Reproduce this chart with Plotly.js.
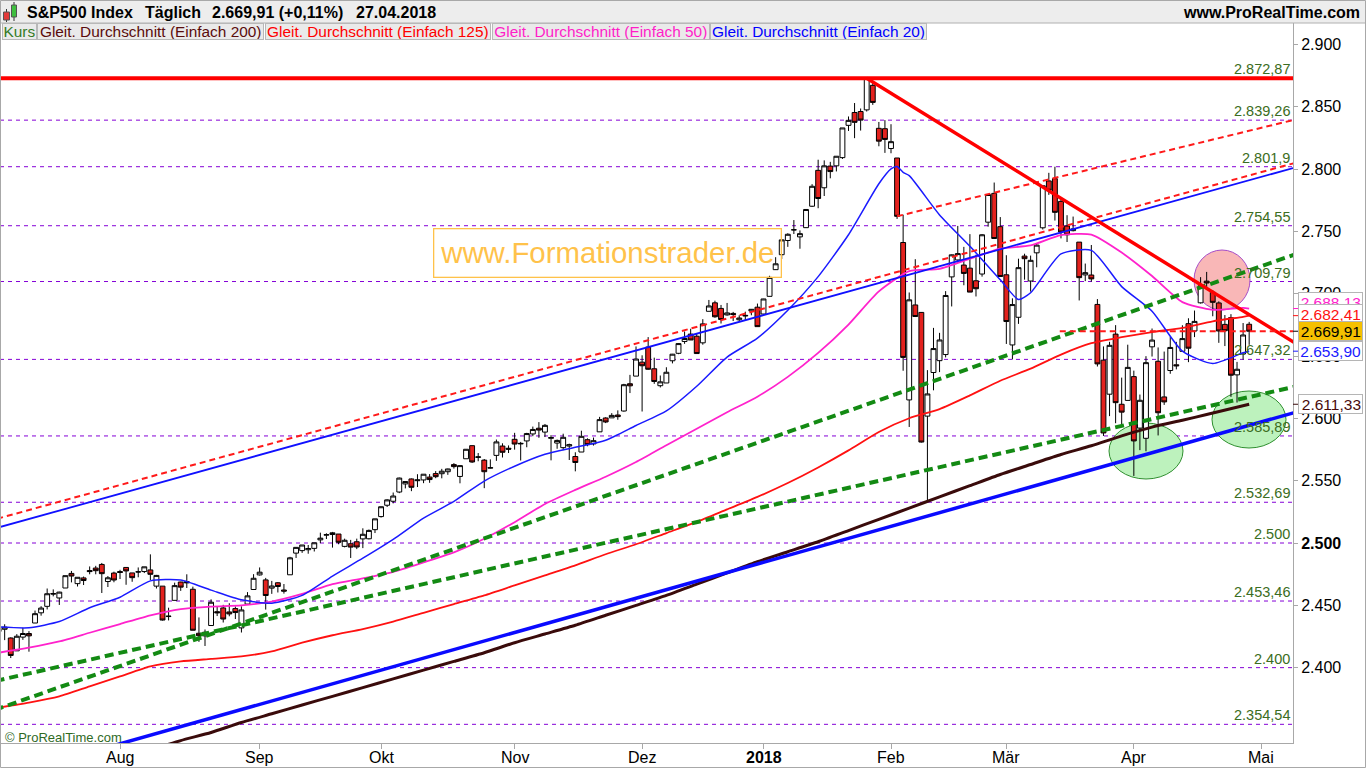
<!DOCTYPE html>
<html><head><meta charset="utf-8">
<script src="https://cdn.plot.ly/plotly-3.0.1.min.js"></script>
<style>html,body{margin:0;padding:0;background:#fff;overflow:hidden}#chart{width:1366px;height:768px}</style>
</head><body><div id="chart"></div>
<script>
// ---------------- DATA ----------------
const tradingDays = {
  '2017-07':[3,5,6,7,10,11,12,13,14,17,18,19,20,21,24,25,26,27,28,31],
  '2017-08':[1,2,3,4,7,8,9,10,11,14,15,16,17,18,21,22,23,24,25,28,29,30,31],
  '2017-09':[1,5,6,7,8,11,12,13,14,15,18,19,20,21,22,25,26,27,28,29],
  '2017-10':[2,3,4,5,6,9,10,11,12,13,16,17,18,19,20,23,24,25,26,27,30,31],
  '2017-11':[1,2,3,6,7,8,9,10,13,14,15,16,17,20,21,22,24,27,28,29,30],
  '2017-12':[1,4,5,6,7,8,11,12,13,14,15,18,19,20,21,22,26,27,28,29],
  '2018-01':[2,3,4,5,8,9,10,11,12,16,17,18,19,22,23,24,25,26,29,30,31],
  '2018-02':[1,2,5,6,7,8,9,12,13,14,15,16,20,21,22,23,26,27,28],
  '2018-03':[1,2,5,6,7,8,9,12,13,14,15,16,19,20,21,22,23,26,27,28,29],
  '2018-04':[2,3,4,5,6,9,10,11,12,13,16,17,18,19,20,23,24,25,26,27]
};
// empty axis slots after the last candle (right margin of the chart)
const axisExtraDays = {'2018-04':[30],'2018-05':[1,2,3,4,7,8,9]};

const open = [2431.4,2430.8,2423.8,2413.5,2424.5,2427.4,2435.8,2444.0,2449.2,2459.5,2455.9,2463.9,2475.6,2467.4,2472.0,2477.9,2479.9,2482.8,2469.1,2475.9,
2477.1,2480.4,2476.0,2476.9,2477.1,2478.4,2465.4,2465.4,2441.0,2454.0,2468.7,2469.0,2462.9,2427.6,2425.5,2433.8,2444.9,2447.9,2444.7,2447.4,2431.9,2451.0,2462.7,
2474.4,2470.4,2463.8,2468.1,2462.3,2474.5,2491.9,2493.9,2494.6,2495.7,2502.5,2506.3,2506.8,2507.2,2497.3,2499.4,2501.0,2503.3,2503.4,2510.7,
2521.2,2530.3,2533.5,2540.9,2547.4,2551.4,2550.0,2550.6,2552.9,2555.7,2555.6,2557.2,2562.9,2553.4,2567.6,2578.1,2568.7,2566.5,2560.1,2570.3,2577.8,2576.0,
2583.2,2579.5,2581.9,2587.5,2592.1,2589.0,2584.0,2580.2,2576.5,2577.8,2569.4,2573.0,2582.9,2579.5,2589.2,2600.3,2600.4,2602.7,2605.9,2627.8,2633.9,
2645.1,2657.2,2639.8,2626.2,2628.4,2646.2,2652.2,2661.7,2667.6,2665.9,2660.6,2685.9,2692.7,2688.2,2683.0,2684.2,2679.1,2682.1,2686.1,2689.2,
2683.7,2697.9,2719.3,2731.3,2742.7,2751.2,2745.6,2753.0,2770.2,2799.0,2785.0,2802.4,2802.6,2809.2,2835.1,2845.4,2846.2,2847.5,2867.2,2832.7,2832.4,
2816.5,2808.9,2741.1,2614.8,2691.0,2685.0,2601.8,2636.8,2646.3,2651.2,2713.5,2727.1,2723.0,2720.5,2710.4,2715.8,2757.4,2780.5,2753.8,
2715.2,2658.9,2681.1,2730.2,2710.2,2732.8,2752.9,2790.5,2792.3,2774.1,2754.3,2750.6,2741.4,2715.1,2715.0,2691.4,2646.7,2619.4,2667.6,2611.3,2614.4,
2633.5,2592.2,2584.0,2657.4,2645.8,2617.2,2638.4,2643.0,2653.8,2676.0,2670.1,2692.7,2710.1,2701.2,2692.6,2675.4,2680.8,2634.9,2651.7,2675.5];

const high = [2439.2,2434.8,2424.3,2426.9,2432.0,2429.3,2445.8,2449.3,2463.5,2462.8,2460.9,2473.8,2477.6,2472.5,2473.1,2481.2,2481.7,2484.0,2473.5,2477.0,
2478.5,2480.4,2476.0,2480.4,2480.9,2490.9,2474.4,2465.4,2448.1,2468.2,2468.9,2474.9,2465.0,2440.3,2430.6,2454.8,2448.9,2450.4,2451.7,2449.1,2449.2,2460.6,2475.0,
2480.4,2472.0,2469.6,2468.6,2467.1,2488.9,2496.8,2498.4,2498.4,2500.2,2508.3,2507.8,2508.9,2507.2,2503.5,2502.5,2503.5,2511.8,2510.8,2519.4,
2529.2,2535.1,2540.5,2552.5,2549.4,2551.8,2555.2,2555.2,2555.3,2557.7,2559.5,2559.7,2564.1,2562.4,2575.4,2578.3,2572.2,2567.4,2567.1,2583.0,2580.0,2578.3,
2588.4,2581.1,2588.4,2593.4,2597.0,2595.5,2586.5,2583.0,2587.7,2579.7,2572.8,2590.1,2584.0,2584.6,2601.2,2600.9,2604.2,2606.4,2627.7,2634.9,2657.7,
2650.6,2665.2,2648.7,2634.4,2641.0,2651.7,2660.3,2669.7,2671.9,2668.1,2679.6,2695.0,2694.4,2691.0,2692.6,2685.4,2682.7,2685.6,2687.7,2692.1,
2695.9,2714.4,2729.3,2743.5,2748.5,2759.1,2750.8,2767.6,2787.9,2807.5,2807.0,2805.8,2810.3,2833.0,2842.2,2853.0,2848.6,2872.9,2870.6,2837.8,2839.3,
2836.0,2808.9,2763.4,2701.0,2727.7,2685.3,2638.7,2672.6,2668.6,2702.1,2731.5,2754.4,2737.6,2747.8,2731.3,2747.8,2780.0,2789.2,2761.5,
2730.9,2696.3,2728.1,2732.1,2730.6,2740.5,2786.6,2797.0,2801.9,2777.1,2763.0,2761.9,2741.4,2724.2,2739.1,2695.7,2657.7,2661.4,2674.8,2632.7,2659.1,
2638.3,2619.1,2649.9,2672.1,2656.9,2653.6,2665.5,2661.4,2674.7,2680.3,2686.5,2713.3,2717.5,2702.8,2693.9,2682.9,2683.6,2645.3,2676.5,2677.4];

const low = [2428.7,2422.1,2407.7,2413.5,2422.3,2412.8,2435.8,2441.7,2446.7,2457.2,2450.3,2463.9,2468.4,2465.1,2466.3,2474.9,2474.9,2459.9,2464.7,2468.5,
2471.1,2466.5,2468.9,2472.5,2475.9,2470.3,2463.5,2437.8,2437.9,2454.0,2461.6,2463.9,2430.0,2420.7,2417.4,2433.7,2441.4,2436.2,2441.2,2439.0,2428.2,2450.4,2462.7,
2473.9,2446.6,2459.2,2460.3,2459.4,2474.5,2488.0,2492.1,2491.4,2493.2,2499.9,2503.2,2496.3,2499.0,2496.5,2488.0,2495.1,2495.9,2502.9,2508.0,
2520.4,2528.9,2531.8,2540.0,2543.8,2541.6,2544.9,2548.0,2548.3,2552.0,2551.9,2554.7,2559.7,2547.9,2567.6,2564.3,2565.6,2544.0,2559.8,2565.9,2568.6,2572.2,
2574.9,2566.2,2576.8,2585.7,2584.4,2585.0,2566.3,2575.6,2574.5,2566.6,2557.5,2573.0,2577.6,2578.2,2589.2,2596.2,2600.4,2598.9,2605.4,2620.3,2633.9,
2605.5,2639.0,2627.7,2624.8,2628.4,2644.1,2651.5,2659.8,2662.9,2652.0,2659.1,2685.9,2680.7,2676.1,2682.4,2678.1,2678.0,2678.9,2682.7,2673.6,
2682.4,2697.8,2719.1,2727.9,2737.6,2747.9,2736.1,2752.8,2769.6,2768.6,2778.4,2792.6,2798.1,2808.1,2830.6,2824.8,2830.9,2846.2,2851.5,2818.3,2813.0,
2812.7,2760.0,2638.2,2593.1,2681.3,2580.6,2532.7,2622.5,2637.1,2648.9,2689.8,2725.1,2706.8,2701.3,2697.8,2713.7,2753.8,2744.2,2713.5,
2659.7,2647.3,2675.8,2711.3,2701.7,2721.2,2751.5,2779.3,2758.7,2744.4,2741.5,2750.0,2694.6,2710.1,2709.8,2641.6,2585.9,2601.8,2596.1,2593.1,2614.4,
2553.8,2574.5,2573.6,2649.6,2586.3,2610.8,2635.8,2639.3,2653.8,2645.1,2665.2,2692.1,2703.6,2681.9,2660.6,2658.0,2617.3,2612.7,2647.2,2659.0];

const close = [2429.0,2432.5,2409.8,2425.2,2427.4,2425.5,2443.3,2447.8,2459.3,2459.1,2460.6,2473.8,2473.5,2472.5,2469.9,2477.1,2477.8,2475.4,2472.1,2470.3,
2476.4,2477.6,2472.2,2476.8,2480.9,2474.9,2474.0,2438.2,2441.3,2465.8,2464.6,2468.1,2430.0,2425.6,2428.4,2452.5,2444.0,2439.0,2443.1,2444.2,2446.3,2457.6,2471.7,
2476.6,2457.9,2465.5,2465.1,2461.4,2488.1,2496.5,2498.4,2495.6,2500.2,2503.9,2506.7,2508.2,2500.6,2502.2,2496.7,2496.8,2507.0,2510.1,2519.4,
2529.1,2534.6,2537.7,2552.1,2549.3,2544.7,2550.6,2555.2,2550.9,2553.2,2557.6,2559.4,2561.3,2562.1,2575.2,2565.0,2569.1,2557.2,2560.4,2581.1,2572.8,2575.3,
2579.4,2579.9,2587.8,2591.1,2590.6,2594.4,2584.6,2582.3,2584.8,2578.9,2564.6,2585.6,2578.9,2582.1,2599.0,2597.1,2602.4,2601.4,2627.0,2626.1,2647.6,
2642.2,2639.4,2629.6,2629.3,2637.0,2651.5,2660.0,2664.1,2662.9,2652.0,2675.8,2690.2,2681.5,2679.3,2684.6,2683.3,2680.5,2682.6,2687.5,2673.6,
2695.8,2713.1,2724.0,2743.2,2747.7,2751.3,2748.2,2767.6,2786.2,2776.4,2802.6,2798.0,2810.3,2833.0,2839.1,2837.5,2839.3,2872.87,2853.5,2822.4,2823.8,
2822.0,2762.1,2648.9,2695.1,2681.7,2581.0,2619.6,2656.0,2662.9,2698.6,2731.2,2732.2,2716.3,2701.3,2704.0,2747.3,2779.6,2744.3,2713.8,
2677.7,2691.3,2720.9,2728.1,2726.8,2739.0,2786.6,2783.0,2765.3,2749.5,2747.3,2752.0,2712.9,2716.9,2711.9,2643.7,2588.3,2658.6,2612.6,2605.0,2640.9,
2581.9,2614.5,2644.7,2662.8,2604.5,2613.2,2656.9,2642.2,2664.0,2656.3,2677.8,2706.4,2708.6,2693.1,2670.1,2670.3,2634.6,2639.4,2666.9,2669.91];

// moving averages (trading-day number, value)
const ma20Day = [0,5,10,15,20,25,30,35,40,45,50,55,60,65,70,75,80,85,90,95,100,105,110,115,120,125,130,135,140,145,147,148,149,150,155,160,165,168,170,175,180,185,190,195,200,205,206];
const ma20Val = [2432.6,2432,2437,2448,2456.5,2469.6,2470.3,2462.2,2454.4,2451.7,2458.0,2473.5,2487.8,2502.9,2520.0,2533.4,2549.7,2561.6,2571.2,2576.8,2582.5,2594.3,2606.0,2625.8,2649.2,2664.4,2686.7,2713.7,2747.3,2788.2,2800.1,2802.0,2797.3,2794.7,2763.2,2738.0,2711.2,2695.3,2700.8,2731.9,2734.8,2705.7,2686.0,2653.9,2644.0,2652.6,2653.90];
const ma50Day = [0,5,10,15,20,25,30,35,40,45,50,55,60,65,70,75,80,85,90,95,100,105,110,115,120,125,130,135,140,145,150,155,160,165,170,175,180,185,190,195,200,205,206];
const ma50Val = [2412,2416,2421,2428,2435,2442,2447,2449,2450,2453,2459.1,2467.0,2471.7,2476.9,2484.5,2492.5,2503.4,2516.7,2531.3,2542.6,2553.2,2565.0,2578.5,2591.7,2604.9,2617.4,2633.3,2652.5,2675.3,2701.9,2718.1,2720.0,2728.1,2736.1,2738.7,2747.0,2747.4,2733.0,2714.2,2693.3,2687.1,2688.7,2688.13];
const ma125Day = [0,5,10,15,20,25,30,35,40,45,50,55,60,65,70,75,80,85,90,95,100,105,110,115,120,125,130,135,140,145,150,155,160,165,170,175,180,185,190,195,200,205,206];
const ma125Val = [2368,2372,2377,2385,2393,2401,2405,2407,2409,2413,2420,2426,2431,2437,2444,2451,2458,2466,2474,2482,2491,2499,2508,2517,2527,2537,2548.1,2560.6,2574.3,2589.1,2600.1,2607.4,2618.4,2630.2,2639.9,2651.2,2660.3,2665.1,2669.2,2672.6,2677.9,2681.5,2682.41];
const ma200Day = [20,25,30,35,40,45,50,55,60,65,70,75,80,85,90,95,100,105,110,115,120,125,130,135,140,145,150,155,160,165,170,175,180,185,190,195,199,206];
const ma200Val = [2327,2334,2341.5,2348,2356,2363,2370,2377,2384,2391,2398,2405,2412,2420,2427,2434,2442,2450,2458,2467,2476,2485,2493,2501,2510,2519,2528,2537,2546,2555,2563,2571,2578,2586,2593,2598.5,2603.1,2611.33];

// horizontal levels and their labels
const levels = [2872.87,2839.26,2801.9,2754.55,2709.79,2647.32,2585.89,2532.69,2500,2453.46,2400,2354.54];
const levelLabels = ['2.872,87','2.839,26','2.801,9','2.754,55','2.709,79','2.647,32','2.585,89','2.532,69','2.500','2.453,46','2.400','2.354,54'];

// last values shown in the right-hand boxes
const lastMA50 = 2688.13, lastMA125 = 2682.41, lastClose = 2669.91, lastMA20 = 2653.90, lastMA200 = 2611.33;

// y axis ticks
const yTicks = [2400,2450,2500,2550,2600,2650,2700,2750,2800,2850,2900];
const monthNames = {'01':'<b>2018</b>','02':'Feb','03':'Mär','04':'Apr','05':'Mai','08':'Aug','09':'Sep','10':'Okt','11':'Nov','12':'Dez'};

// trend lines drawn on the chart: two anchor points (trading-day number, price)
const trendLines = [
  {a:[0.23,2367.6], b:[213.22,2731.0], start:-5,  color:'#138a13', width:4,   dash:'9px,5px'},   // green dashed (steep)
  {a:[0.23,2390.1], b:[213.22,2625.1], start:-5,  color:'#138a13', width:4,   dash:'9px,5px'},   // green dashed (flat)
  {a:[0.23,2520.1], b:[173.2,2751.1],  start:-5,  color:'#ff1a1a', width:2,   dash:'6px,4px'},   // red dashed long
  {a:[148,2762.13], b:[213.22,2839.3], start:148, color:'#ff1a1a', width:2,   dash:'6px,4px'},   // red dashed from Feb 2
  {a:[0.23,2512.8], b:[213.22,2800.8], start:-5,  color:'#1010ff', width:1.8, dash:'solid'},     // blue thin channel
  {a:[20.49,2339.6],b:[213.22,2604.3], start:-5,  color:'#0a0aff', width:3.5, dash:'solid'},     // blue thick support
  {a:[143,2872.87], b:[213.22,2661.5], start:143, color:'#ff0000', width:3.5, dash:'solid'},     // red down trend
  {a:[174.8,2669.91],b:[213.22,2669.91],start:174.8,color:'#ff1a1a', width:2, dash:'6px,4px'}    // last close line
];

// ---------------- BUILD ----------------
const dates = [];
for (const ym in tradingDays) tradingDays[ym].forEach(d => dates.push(ym + '-' + String(d).padStart(2,'0')));
const axisDates = dates.slice();
for (const ym in axisExtraDays) axisExtraDays[ym].forEach(d => axisDates.push(ym + '-' + String(d).padStart(2,'0')));
const xIdx = dates.map((d, i) => i);

const tickvals = [], ticktext = [];
axisDates.forEach((d, i) => {
  if (i === 0) return;
  if (d.slice(5,7) !== axisDates[i-1].slice(5,7)) { tickvals.push(i); ticktext.push(monthNames[d.slice(5,7)]); }
});

function fmtDE(v, dec) {
  const s = v.toFixed(dec).split('.');
  const int = s[0].replace(/\B(?=(\d{3})+(?!\d))/g, '.');
  return dec > 0 ? int + ',' + s[1] : int;
}

const X_MIN = 0.23, X_MAX = 213.22;
const Y_MIN = 2339.55, Y_MAX = 2917.2;
const PW = 1293, PB = 743, PH = 720;
const px = x => x / PW;
const py = y => (PB - y) / PH;

const FONT = 'Liberation Sans, Arial, Helvetica, sans-serif';

const traces = [];
traces.push({
  type:'candlestick', x:xIdx, open:open, high:high, low:low, close:close,
  increasing:{line:{color:'#000000', width:1}, fillcolor:'#ffffff'},
  decreasing:{line:{color:'#000000', width:1}, fillcolor:'#e3221e'},
  whiskerwidth:0, hoverinfo:'skip', showlegend:false
});
function maTrace(days, vals, color, width) {
  return {type:'scatter', mode:'lines', x:days, y:vals, line:{color:color, width:width, shape:'spline', smoothing:0.6}, hoverinfo:'skip', showlegend:false};
}
traces.push(maTrace(ma200Day, ma200Val, '#3a0b0b', 3));
traces.push(maTrace(ma125Day, ma125Val, '#ff1111', 1.8));
traces.push(maTrace(ma50Day, ma50Val, '#ff22cc', 1.8));
traces.push(maTrace(ma20Day, ma20Val, '#1a1aff', 1.5));

trendLines.forEach(t => {
  const k = (t.b[1] - t.a[1]) / (t.b[0] - t.a[0]);
  const x0 = t.start, x1 = X_MAX + 5;
  traces.push({type:'scatter', mode:'lines', x:[x0, x1], y:[t.a[1] + k*(x0 - t.a[0]), t.a[1] + k*(x1 - t.a[0])],
    line:{color:t.color, width:t.width, dash:t.dash}, hoverinfo:'skip', showlegend:false});
});

// ---------------- SHAPES ----------------
const shapes = [];
// marking circles (behind the candles), given in pixel centre / radii of the picture
function ellipse(cx, cy, rx, ry, fill, line) {
  const i0 = X_MIN + (cx - rx) / 6.0707, i1 = X_MIN + (cx + rx) / 6.0707;
  const p = y => Y_MIN + (PB - y) / PH * (Y_MAX - Y_MIN);
  return {type:'circle', xref:'x', yref:'y', x0:i0, x1:i1, y0:p(cy + ry), y1:p(cy - ry), fillcolor:fill, line:{color:line, width:1}, layer:'below'};
}
shapes.push(ellipse(1222, 280, 28, 30, '#f9b7b7', '#a64dc8'));
shapes.push(ellipse(1146, 451, 37, 28, '#bdf2bd', '#2f8f2f'));
shapes.push(ellipse(1249, 419.5, 37, 28.5, '#bdf2bd', '#2f8f2f'));
// level lines
levels.forEach((v, i) => {
  if (i === 0) {
    shapes.push({type:'line', xref:'paper', yref:'y', x0:0, x1:1, y0:v, y1:v, line:{color:'#ff0000', width:4}, layer:'above'});
  } else {
    shapes.push({type:'line', xref:'paper', yref:'y', x0:0, x1:1, y0:v, y1:v, line:{color:'#8400d6', width:1, dash:'4px,4px'}, layer:'below'});
  }
});
// header bar
shapes.push({type:'rect', xref:'paper', yref:'paper', x0:px(0), x1:px(1366), y0:py(23), y1:py(0), fillcolor:'#ededed', line:{width:0}, layer:'above'});
shapes.push({type:'line', xref:'paper', yref:'paper', x0:px(0), x1:px(1366), y0:py(23), y1:py(23), line:{color:'#b0b0b0', width:1}, layer:'above'});
// header icon (two small candles)
shapes.push({type:'line', xref:'paper', yref:'paper', x0:px(6.5), x1:px(6.5), y0:py(22), y1:py(9), line:{color:'#333', width:1}, layer:'above'});
shapes.push({type:'rect', xref:'paper', yref:'paper', x0:px(3.5), x1:px(9.5), y0:py(20), y1:py(12), fillcolor:'#e33a3a', line:{color:'#555', width:1}, layer:'above'});
shapes.push({type:'line', xref:'paper', yref:'paper', x0:px(14), x1:px(14), y0:py(21), y1:py(2), line:{color:'#333', width:1}, layer:'above'});
shapes.push({type:'rect', xref:'paper', yref:'paper', x0:px(11.5), x1:px(16.5), y0:py(17), y1:py(5), fillcolor:'#3fbf3f', line:{color:'#555', width:1}, layer:'above'});
// frame
shapes.push({type:'rect', xref:'paper', yref:'paper', x0:px(0.5), x1:px(1365.5), y0:py(767.5), y1:py(0.5), line:{color:'#a8a8a8', width:1}, layer:'above'});
shapes.push({type:'line', xref:'paper', yref:'paper', x0:px(0.5), x1:px(0.5), y0:0, y1:1, line:{color:'#a8a8a8', width:1}, layer:'above'});
// small coloured marks on the axis for the last values
[[lastMA50,'#ff22cc'],[lastMA125,'#ff1111'],[lastClose,'#000000'],[lastMA20,'#1a1aff'],[lastMA200,'#3a0b0b']].forEach(m => {
  shapes.push({type:'line', xref:'paper', yref:'y', x0:px(1293), x1:px(1298), y0:m[0], y1:m[0], line:{color:m[1], width:1}, layer:'above'});
});

// ---------------- ANNOTATIONS ----------------
const ann = [];
// header texts
[['S&P500 Index',25],['Täglich',143],['2.669,91 (+0,11%)',210],['27.04.2018',354]].forEach(h => {
  ann.push({text:'<b>' + h[0] + '</b>', xref:'paper', yref:'paper', x:px(h[1]), y:py(12), xanchor:'left', yanchor:'middle', showarrow:false, font:{family:FONT, size:16, color:'#000'}});
});
ann.push({text:'<b>www.ProRealTime.com</b>', xref:'paper', yref:'paper', x:px(1362), y:py(12), xanchor:'right', yanchor:'middle', showarrow:false, font:{family:FONT, size:16, color:'#000'}});
// legend row
[['Kurs',2,35,'#357a1f'],['Gleit. Durchschnitt (Einfach 200)',37.3,227.4,'#5a0c0c'],['Gleit. Durchschnitt (Einfach 125)',265,225.7,'#ff0000'],
 ['Gleit. Durchschnitt (Einfach 50)',491.7,217.6,'#ff1ec8'],['Gleit. Durchschnitt (Einfach 20)',710.3,217,'#0000ff']].forEach(l => {
  ann.push({text:l[0], xref:'paper', yref:'paper', x:px(l[1]), y:py(23), xanchor:'left', yanchor:'top', showarrow:false,
    width:l[2]-2, height:15, borderpad:0, borderwidth:1, bordercolor:'#b8b8b8', bgcolor:'#eaeaea', align:'center', valign:'middle',
    font:{family:FONT, size:15.4, color:l[3]}});
});
// month labels of the x axis
tickvals.forEach((v, i) => {
  ann.push({text:ticktext[i], xref:'x', yref:'paper', x:v, y:py(757), xanchor:'center', yanchor:'middle', showarrow:false,
    font:{family:FONT, size:16, color:'#000'}});
});
// level labels
levels.forEach((v, i) => {
  ann.push({text:levelLabels[i], xref:'paper', yref:'y', x:px(1291.5), y:v, xanchor:'right', yanchor:'bottom', yshift:-1, showarrow:false,
    font:{family:FONT, size:14.5, color:'#3b6d22'}});
});
// watermark
ann.push({text:'www.Formationstrader.de', xref:'paper', yref:'paper', x:px(607), y:py(253.5), xanchor:'center', yanchor:'middle', showarrow:false,
  width:344, height:45, borderpad:1, borderwidth:1.3, bordercolor:'#ffc24a', bgcolor:'rgba(255,255,255,0)',
  font:{family:FONT, size:29.4, color:'#ffc24a'}});
// copyright
ann.push({text:'© ProRealTime.com', xref:'paper', yref:'paper', x:px(3), y:py(737), xanchor:'left', yanchor:'middle', showarrow:false, font:{family:FONT, size:13, color:'#2f6a1f'}});
// right value boxes
[[lastMA50,'#ff22cc','#ffffff',6.5],[lastMA125,'#ff1111','#ffffff',1.6],[lastClose,'#000000','#f5c000',0],[lastMA20,'#1a1aff','#ffffff',0],[lastMA200,'#4a0b0b','#ffffff',0]].forEach(b => {
  ann.push({text:fmtDE(b[0],2), xref:'paper', yref:'y', x:px(1298), y:b[0], xanchor:'left', yanchor:'middle', yshift:b[3], showarrow:false,
    width:61, height:16, borderpad:1, borderwidth:1, bordercolor:'#b5b5b5', bgcolor:b[2], align:'right',
    font:{family:FONT, size:15.5, color:b[1]}});
});

const layout = {
  width:1366, height:768,
  margin:{l:0, r:73, t:23, b:25, pad:0},
  paper_bgcolor:'#ffffff', plot_bgcolor:'#ffffff',
  showlegend:false, dragmode:false, hovermode:false,
  boxgap:0.2, boxgroupgap:0,
  font:{family:FONT, color:'#000'},
  xaxis:{type:'linear', range:[X_MIN, X_MAX], showgrid:false, zeroline:false, showline:true, linecolor:'#a8a8a8', linewidth:1,
    tickmode:'array', tickvals:tickvals, ticktext:ticktext, showticklabels:false, ticks:'outside', ticklen:5, tickcolor:'#a8a8a8',
    rangeslider:{visible:false}, fixedrange:true},
  yaxis:{side:'right', range:[Y_MIN, Y_MAX], showgrid:false, zeroline:false, showline:true, linecolor:'#a8a8a8', linewidth:1,
    tickmode:'array', tickvals:yTicks, ticktext:yTicks.map(v => v === 2500 ? '<b>' + fmtDE(v,0) + '</b>' : fmtDE(v,0)),
    ticks:'outside', ticklen:4, tickcolor:'#a8a8a8', tickfont:{family:FONT, size:16, color:'#000'}, fixedrange:true},
  shapes:shapes, annotations:ann
};

Plotly.newPlot('chart', traces, layout, {displayModeBar:false, staticPlot:true});
</script>
</body></html>
